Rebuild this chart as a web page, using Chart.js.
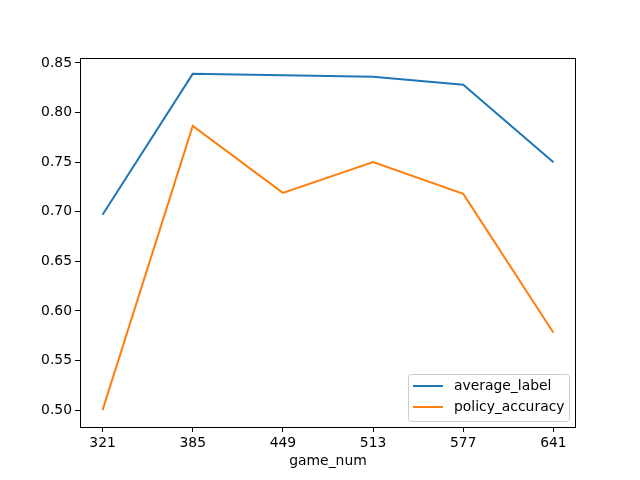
<!DOCTYPE html>
<html><head><meta charset="utf-8">
<script src="https://cdn.jsdelivr.net/npm/chart.js@4"></script>
<style>html,body{margin:0;padding:0;background:#fff}#w{width:640px;height:480px}</style>
</head><body><div id="w"><canvas id="c" width="640" height="480"></canvas></div>
<script>
const gameNum = [321, 385, 449, 513, 577, 641];
const averageLabel = [0.697, 0.839, 0.8377, 0.836, 0.828, 0.750];
const policyAccuracy = [0.500, 0.7865, 0.719, 0.750, 0.718, 0.578];
const xTicks = [321, 385, 449, 513, 577, 641];
const yTicks = [0.50, 0.55, 0.60, 0.65, 0.70, 0.75, 0.80, 0.85];

const FONT = "'DejaVu Sans', sans-serif";
const FS = 13.9;

const legendPlugin = {
  id: 'mplLegend',
  afterDraw(chart) {
    const ctx = chart.ctx, a = chart.chartArea;
    const w = 161, h = 47;
    const x = a.right - 7 - w, y = a.bottom - 6 - h;
    ctx.save();
    ctx.fillStyle = 'rgba(255,255,255,0.8)';
    ctx.strokeStyle = '#cccccc';
    ctx.lineWidth = 1;
    ctx.beginPath();
    if (ctx.roundRect) ctx.roundRect(x + 0.5, y + 0.5, w, h, 3); else ctx.rect(x + 0.5, y + 0.5, w, h);
    ctx.fill(); ctx.stroke();
    const items = [['average_label', '#1f77b4'], ['policy_accuracy', '#ff7f0e']];
    ctx.font = FS + 'px ' + FONT;
    ctx.textBaseline = 'middle';
    items.forEach((it, i) => {
      const cy = y + 12 + i * 21;
      ctx.strokeStyle = it[1]; ctx.lineWidth = 2;
      ctx.beginPath(); ctx.moveTo(x + 5, cy); ctx.lineTo(x + 35, cy); ctx.stroke();
      ctx.fillStyle = '#000';
      ctx.fillText(it[0], x + 46, cy);
    });
    ctx.restore();
  }
};

const frame = {
  id: 'frame',
  afterDatasetsDraw(chart) {
    const ctx = chart.ctx, a = chart.chartArea;
    ctx.save(); ctx.strokeStyle = '#000'; ctx.lineWidth = 1;
    ctx.strokeRect(Math.round(a.left) + 0.5, Math.round(a.top) + 0.5, Math.round(a.right - a.left) - 1, Math.round(a.bottom - a.top));
    ctx.restore();
  }
};

const gridOpts = { display: true, drawOnChartArea: false, drawTicks: true, tickLength: 5, color: '#000', tickColor: '#000', tickWidth: 1 };

new Chart(document.getElementById('c'), {
  type: 'line',
  data: {
    datasets: [
      { label: 'average_label', data: gameNum.map((g, i) => ({x: g, y: averageLabel[i]})), borderColor: '#1f77b4', backgroundColor: '#1f77b4', borderWidth: 2, pointRadius: 0, tension: 0, fill: false },
      { label: 'policy_accuracy', data: gameNum.map((g, i) => ({x: g, y: policyAccuracy[i]})), borderColor: '#ff7f0e', backgroundColor: '#ff7f0e', borderWidth: 2, pointRadius: 0, tension: 0, fill: false }
    ]
  },
  options: {
    responsive: false, animation: false,
    layout: { padding: { left: 0, right: 64, top: 58, bottom: 0 } },
    plugins: { legend: { display: false }, tooltip: { enabled: false } },
    scales: {
      x: {
        type: 'linear', min: 305, max: 657,
        afterBuildTicks: s => { s.ticks = xTicks.map(v => ({value: v})); },
        afterFit: s => { s.height = 53; },
        grid: gridOpts,
        border: { display: false },
        ticks: { color: '#000', font: { family: FONT, size: FS }, padding: 3, maxRotation: 0, autoSkip: false, callback: v => String(v) },
        title: { display: true, text: 'game_num', color: '#000', font: { family: FONT, size: FS }, padding: { top: 2, bottom: 10 } }
      },
      y: {
        min: 0.483, max: 0.855,
        afterBuildTicks: s => { s.ticks = yTicks.map(v => ({value: v})); },
        afterFit: s => { s.width = 80; },
        grid: gridOpts,
        border: { display: false },
        ticks: { color: '#000', font: { family: FONT, size: FS }, padding: 3, autoSkip: false, callback: v => v.toFixed(2) }
      }
    }
  },
  plugins: [frame, legendPlugin]
});
</script></body></html>
